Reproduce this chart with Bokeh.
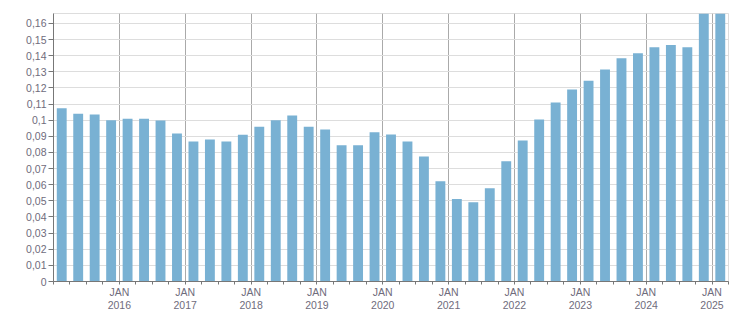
from bokeh.plotting import figure
from bokeh.models import Range1d, FixedTicker, CustomJSTickFormatter
from bokeh.embed import file_html
from bokeh.resources import INLINE

quarters = [f"{y} Q{q}" for y in range(2015, 2025) for q in range(1, 5)] + ["2025 Q1"]
values = [
    0.1075, 0.1040, 0.1035, 0.1000,
    0.1010, 0.1010, 0.0998, 0.0918,
    0.0868, 0.0880, 0.0868, 0.0910,
    0.0960, 0.1000, 0.1030, 0.0960,
    0.0942, 0.0845, 0.0845, 0.0925,
    0.0912, 0.0868, 0.0775, 0.0622,
    0.0512, 0.0492, 0.0578, 0.0745,
    0.0875, 0.1005, 0.1110, 0.1190,
    0.1245, 0.1315, 0.1385, 0.1416,
    0.1453, 0.1466, 0.1453, 0.1720,
    0.1720,
]
year_labels = ["JAN\n2016", "JAN\n2017", "JAN\n2018", "JAN\n2019", "JAN\n2020",
               "JAN\n2021", "JAN\n2022", "JAN\n2023", "JAN\n2024", "JAN\n2025"]
y_ticks = [round(i * 0.01, 2) for i in range(0, 17)]

x_pos = [i + 0.5 for i in range(len(quarters))]
major_x = [4 * (k + 1) for k in range(len(year_labels))]
minor_x = [i for i in range(0, len(quarters) + 1)]

p = figure(width=751, height=313, output_backend="svg", toolbar_location=None,
           x_range=Range1d(0, len(quarters)), y_range=Range1d(0, 0.1662),
           min_border_left=53, min_border_right=23, min_border_top=13, min_border_bottom=32)

p.vbar(x=x_pos, top=values, width=0.6, color="#79b1d3", line_color=None)

text_color = "#6f6c7c"
font = "Liberation Sans"

p.xaxis.ticker = FixedTicker(ticks=major_x, minor_ticks=minor_x)
p.xaxis.major_label_overrides = {t: l for t, l in zip(major_x, year_labels)}
p.xaxis.major_tick_out = 0
p.xaxis.major_tick_in = 0
p.xaxis.minor_tick_out = 3
p.xaxis.minor_tick_in = 0
p.xaxis.major_label_standoff = 1
p.xaxis.major_label_text_font = font
p.xaxis.major_label_text_font_size = "10.5px"
p.xaxis.major_label_text_line_height = 1.1
p.xaxis.major_label_text_color = text_color
p.xaxis.axis_line_color = "#777777"
p.xaxis.minor_tick_line_color = "#777777"

p.yaxis.ticker = FixedTicker(ticks=y_ticks)
p.yaxis.formatter = CustomJSTickFormatter(code="""
let s = tick.toFixed(2).replace(/0+$/, '').replace(/\\.$/, '');
return s.replace('.', ',');
""")
p.yaxis.major_tick_out = 5
p.yaxis.major_tick_in = 0
p.yaxis.minor_tick_out = 0
p.yaxis.minor_tick_in = 0
p.yaxis.major_label_standoff = 2
p.yaxis.major_label_text_font = font
p.yaxis.major_label_text_font_size = "10.5px"
p.yaxis.major_label_text_color = text_color
p.yaxis.axis_line_color = "#777777"
p.yaxis.major_tick_line_color = "#777777"

p.xgrid.ticker = FixedTicker(ticks=major_x)
p.xgrid.grid_line_color = "#aaaaaa"
p.xgrid.grid_line_width = 1
p.ygrid.ticker = FixedTicker(ticks=y_ticks)
p.ygrid.grid_line_color = "#dddddd"
p.ygrid.grid_line_width = 1
p.outline_line_color = "#dddddd"
p.background_fill_color = "white"
p.border_fill_color = "white"

open("out.html", "w").write(file_html(p, INLINE))
